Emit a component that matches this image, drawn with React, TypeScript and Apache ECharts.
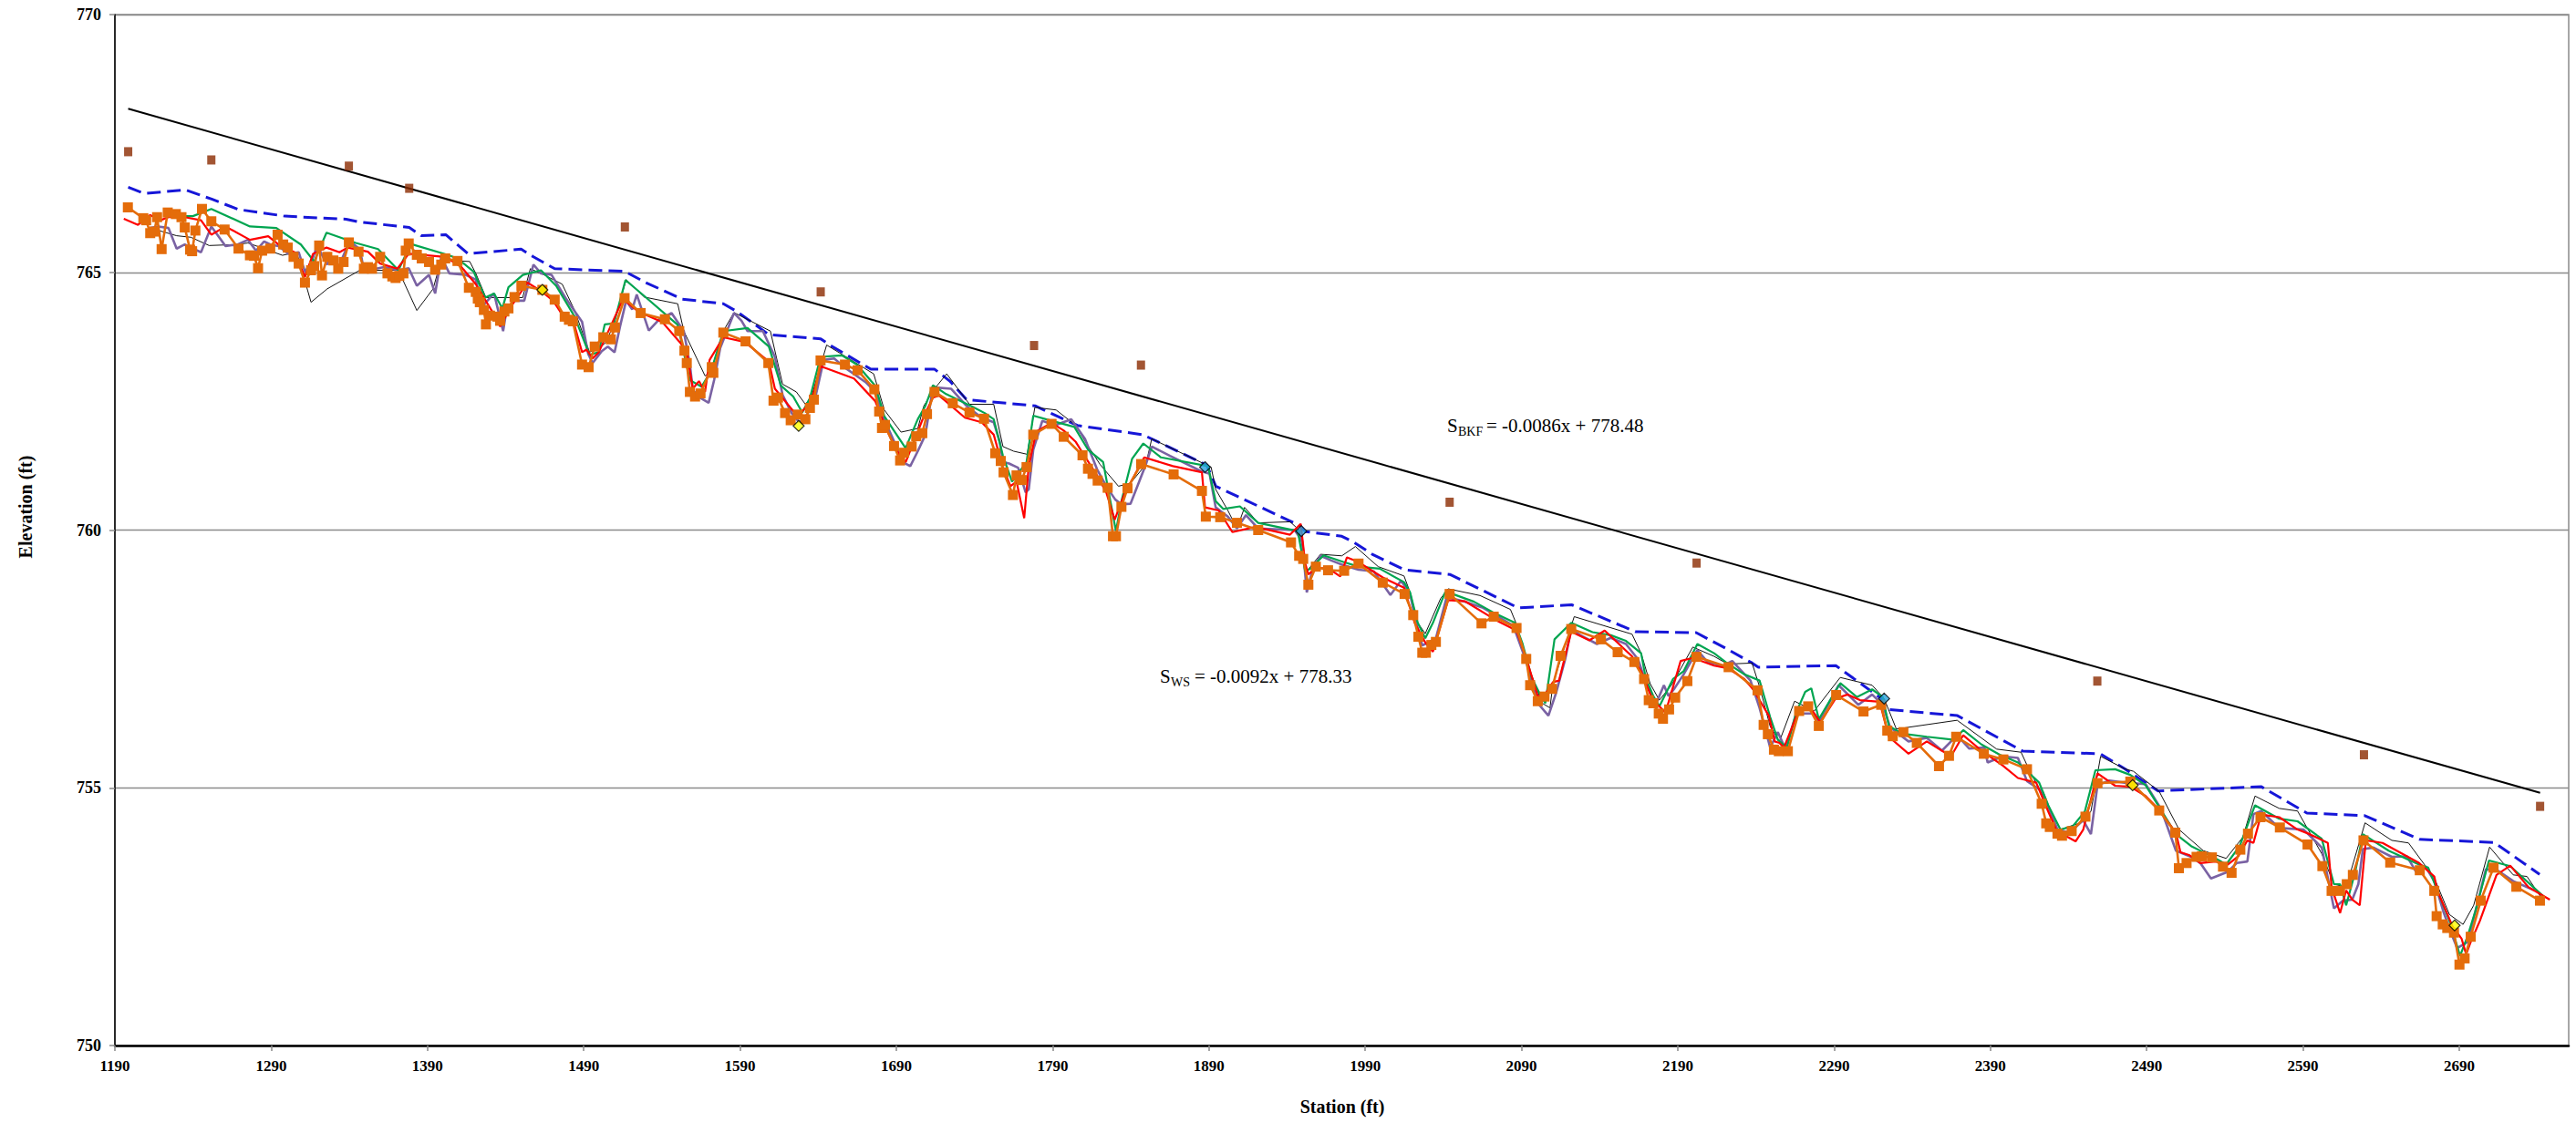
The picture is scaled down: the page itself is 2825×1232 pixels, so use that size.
import { useEffect, useRef } from 'react';
import * as echarts from 'echarts';

type Pt = [number, number];

// Axis ranges (ft)
const stationMin = 1190;
const stationMax = 2760;
const stationStep = 100;
const elevMin = 750;
const elevMax = 770;
const elevStep = 5;

// Regression coefficients for bankfull and water-surface slopes
const bkfSlope = -0.0086;
const bkfIntercept = 778.48;
const wsSlope = -0.0092;
const wsIntercept = 778.33;

// Bankfull elevations
const bankfull: Pt[] = [
  [1198.5, 767.34], [1251.7, 767.18], [1339.7, 767.06], [1378.3, 766.63], [1516.3, 765.88],
  [1641.6, 764.62], [1778.1, 763.58], [1846.5, 763.2], [2044.0, 760.54], [2202.0, 759.36],
  [2458.4, 757.07], [2629.0, 755.64], [2741.7, 754.64],
];

// Top of bank (dashed)
const topOfBank: Pt[] = [
  [1198.5, 766.65], [1208.9, 766.53], [1235.0, 766.6], [1251.9, 766.42], [1268.9, 766.22],
  [1298.8, 766.09], [1337.9, 766.03], [1345.7, 765.98], [1378.3, 765.87], [1386.0, 765.71],
  [1401.7, 765.73], [1416.0, 765.36], [1449.9, 765.45], [1457.8, 765.3], [1471.4, 765.07],
  [1516.1, 765.02], [1529.7, 764.8], [1553.1, 764.48], [1579.3, 764.39], [1588.0, 764.24],
  [1608.5, 763.79], [1641.6, 763.71], [1647.4, 763.59], [1673.7, 763.12], [1714.5, 763.12],
  [1724.2, 762.89], [1734.9, 762.53], [1778.7, 762.41], [1805.8, 762.03], [1847.7, 761.85],
  [1888.6, 761.26], [1894.4, 760.85], [1947.9, 760.09], [1951.8, 759.97], [1975.0, 759.88],
  [1982.9, 759.76], [1994.5, 759.53], [2015.0, 759.23], [2044.1, 759.14], [2087.9, 758.49],
  [2122.0, 758.55], [2162.8, 758.03], [2201.7, 758.01], [2219.2, 757.73], [2237.6, 757.42],
  [2241.5, 757.34], [2291.1, 757.37], [2320.3, 756.73], [2324.2, 756.52], [2368.9, 756.4],
  [2410.7, 755.71], [2460.3, 755.66], [2475.8, 755.37], [2497.3, 754.94], [2563.4, 755.02],
  [2592.5, 754.51], [2629.5, 754.46], [2664.5, 754.0], [2712.3, 753.94], [2741.4, 753.32],
];

// Water surface, survey A (thin black)
const surveyA: Pt[] = [
  [1212.6, 765.86], [1229.5, 765.71], [1238.6, 765.68], [1250.3, 765.52], [1268.6, 765.54],
  [1275.1, 765.57], [1297.2, 765.33], [1306.3, 765.39], [1315.5, 764.42], [1325.9, 764.68],
  [1346.7, 765.04], [1371.4, 765.04], [1383.2, 764.26], [1393.6, 764.68], [1398.8, 765.24],
  [1417.0, 765.21], [1420.9, 764.98], [1427.4, 764.51], [1450.9, 764.51], [1455.8, 765.07],
  [1464.6, 764.95], [1476.2, 764.77], [1484.0, 764.27], [1493.7, 763.45], [1501.5, 763.57],
  [1504.4, 763.65], [1509.3, 764.01], [1517.1, 764.86], [1528.7, 764.52], [1550.1, 764.39],
  [1554.0, 763.86], [1567.6, 762.99], [1571.5, 763.09], [1579.3, 763.86], [1586.1, 764.22],
  [1609.4, 763.86], [1617.2, 762.83], [1626.0, 762.68], [1631.8, 762.44], [1635.7, 762.59],
  [1645.4, 763.59], [1675.5, 763.03], [1682.3, 762.33], [1693.0, 761.9], [1703.7, 761.97],
  [1707.6, 762.41], [1714.4, 762.74], [1722.2, 763.03], [1736.8, 762.44], [1752.3, 762.44],
  [1758.2, 761.62], [1765.0, 761.53], [1773.7, 761.47], [1778.6, 762.38], [1792.2, 762.33],
  [1804.8, 762.03], [1811.6, 761.68], [1820.4, 761.27], [1832.1, 760.85], [1839.8, 760.91],
  [1849.6, 761.27], [1853.4, 761.77], [1891.4, 761.22], [1894.3, 760.79], [1902.1, 760.38],
  [1907.9, 760.03], [1912.8, 760.44], [1921.5, 760.14], [1941.9, 760.16], [1947.7, 760.0],
  [1952.6, 759.2], [1961.4, 759.53], [1975.0, 759.5], [1983.7, 759.68], [1998.3, 759.29],
  [2014.8, 759.11], [2018.7, 758.79], [2023.6, 758.2], [2028.4, 757.99], [2038.2, 758.67],
  [2043.0, 758.86], [2063.4, 758.73], [2082.9, 758.46], [2086.4, 758.2], [2092.6, 757.49],
  [2103.3, 756.64], [2108.2, 756.55], [2110.1, 757.02], [2123.7, 758.32], [2160.7, 757.98],
  [2166.5, 757.61], [2172.3, 757.02], [2178.2, 756.7], [2185.9, 756.99], [2199.6, 757.73],
  [2213.2, 757.55], [2221.9, 757.4], [2237.5, 757.42], [2242.3, 756.96], [2249.1, 756.19],
  [2255.0, 755.9], [2264.7, 756.68], [2277.3, 756.49], [2293.9, 757.14], [2314.3, 756.99],
  [2322.0, 756.73], [2329.8, 756.14], [2368.7, 756.31], [2394.0, 755.75], [2409.6, 755.69],
  [2415.4, 755.31], [2427.0, 754.66], [2434.8, 754.19], [2446.5, 754.31], [2454.3, 754.54],
  [2460.5, 755.61], [2475.7, 755.37], [2481.5, 755.32], [2498.0, 754.93], [2510.7, 754.19],
  [2526.2, 753.78], [2540.8, 753.63], [2551.5, 754.04], [2559.3, 754.84], [2574.8, 754.6],
  [2586.5, 754.55], [2602.0, 753.72], [2609.8, 753.13], [2617.6, 753.07], [2629.7, 754.32],
  [2646.8, 753.98], [2657.5, 753.93], [2674.0, 753.25], [2683.7, 752.54], [2692.4, 752.35],
  [2699.2, 752.72], [2709.4, 753.85], [2724.5, 753.31], [2733.3, 753.28], [2742.0, 752.89],
];

// Water surface, survey B (purple)
const surveyB: Pt[] = [
  [1212.6, 765.86], [1217.8, 765.89], [1224.3, 765.86], [1229.5, 765.46], [1234.7, 765.54],
  [1238.6, 765.48], [1245.1, 765.39], [1251.7, 765.89], [1260.8, 765.51], [1268.6, 765.54],
  [1275.1, 765.63], [1280.3, 765.42], [1285.5, 765.6], [1289.4, 765.54], [1294.6, 765.51],
  [1301.1, 765.36], [1307.6, 765.39], [1311.6, 765.01], [1315.5, 765.18], [1319.4, 765.51],
  [1325.9, 765.15], [1328.5, 765.3], [1332.4, 765.04], [1336.3, 765.33], [1340.2, 765.6],
  [1346.7, 765.45], [1349.3, 765.05], [1357.1, 765.07], [1362.3, 765.1], [1371.4, 765.04],
  [1378.0, 765.08], [1383.2, 764.74], [1391.0, 764.95], [1394.9, 764.59], [1398.8, 765.3],
  [1404.0, 764.98], [1414.4, 764.95], [1420.9, 764.86], [1424.8, 764.33], [1432.6, 764.59],
  [1438.4, 763.86], [1440.4, 764.24], [1445.7, 764.45], [1451.9, 764.45], [1457.8, 765.15],
  [1462.6, 764.98], [1469.4, 764.95], [1478.2, 764.51], [1485.0, 764.21], [1488.9, 764.04],
  [1492.8, 763.42], [1495.7, 763.24], [1501.5, 763.47], [1505.4, 763.56], [1509.7, 763.45],
  [1513.2, 763.95], [1517.1, 764.45], [1521.0, 764.28], [1523.9, 764.57], [1531.6, 763.87],
  [1538.4, 764.09], [1546.2, 764.21], [1554.0, 763.86], [1557.9, 763.21], [1559.8, 762.71],
  [1564.7, 762.56], [1569.9, 762.47], [1573.4, 762.91], [1577.3, 763.53], [1586.1, 764.21],
  [1590.9, 764.06], [1594.8, 763.86], [1604.6, 763.86], [1612.3, 763.36], [1617.2, 762.62],
  [1623.0, 762.27], [1627.9, 762.09], [1632.8, 762.24], [1637.6, 762.5], [1643.5, 763.3],
  [1650.2, 763.33], [1657.1, 763.15], [1670.7, 762.86], [1676.5, 762.68], [1681.4, 762.21],
  [1688.2, 761.74], [1694.0, 761.32], [1698.9, 761.24], [1703.7, 761.53], [1708.6, 761.85],
  [1713.4, 762.77], [1725.1, 762.74], [1734.8, 762.41], [1744.6, 762.18], [1752.3, 762.09],
  [1756.2, 761.71], [1758.2, 761.32], [1762.1, 761.29], [1767.9, 761.21], [1772.7, 760.73],
  [1774.7, 760.79], [1777.6, 761.56], [1783.4, 762.12], [1791.2, 762.03], [1801.9, 762.15],
  [1810.7, 761.77], [1818.4, 761.18], [1824.3, 760.85], [1830.1, 760.59], [1834.0, 760.5],
  [1839.8, 760.51], [1849.6, 761.27], [1853.4, 761.62], [1865.1, 761.44], [1884.5, 761.15],
  [1890.4, 761.09], [1894.3, 760.44], [1902.1, 760.26], [1907.9, 760.03], [1913.7, 760.29],
  [1921.5, 760.03], [1944.8, 760.0], [1949.7, 759.79], [1952.6, 758.79], [1956.5, 759.26],
  [1961.4, 759.5], [1968.2, 759.41], [1976.0, 759.32], [1985.7, 759.23], [1995.4, 759.2],
  [2006.1, 758.74], [2012.9, 759.02], [2018.7, 758.76], [2022.6, 758.2], [2026.5, 757.76],
  [2030.4, 757.82], [2035.2, 757.9], [2042.1, 758.7], [2053.7, 758.61], [2065.4, 758.49],
  [2075.1, 758.32], [2084.8, 758.14], [2092.6, 757.49], [2100.4, 756.64], [2107.2, 756.4],
  [2112.1, 756.84], [2117.9, 757.49], [2121.8, 758.08], [2127.6, 757.96], [2138.3, 757.79],
  [2147.1, 757.91], [2156.8, 757.79], [2164.6, 757.49], [2170.4, 756.96], [2176.2, 756.64],
  [2181.1, 756.99], [2184.0, 756.78], [2187.9, 756.93], [2193.7, 757.2], [2202.5, 757.67],
  [2209.3, 757.43], [2219.0, 757.37], [2224.8, 757.46], [2236.5, 757.08], [2242.3, 756.55],
  [2249.1, 755.78], [2254.0, 756.08], [2258.9, 755.75], [2265.7, 756.44], [2277.3, 756.44],
  [2280.2, 756.28], [2292.9, 756.99], [2305.5, 756.61], [2314.3, 756.81], [2321.1, 756.61],
  [2325.9, 756.17], [2337.6, 755.9], [2349.3, 755.97], [2359.0, 755.72], [2368.7, 756.02],
  [2376.5, 755.76], [2386.2, 755.78], [2388.2, 755.49], [2397.9, 755.61], [2407.6, 755.58],
  [2413.4, 755.13], [2423.2, 754.93], [2432.9, 754.19], [2440.7, 754.13], [2449.4, 754.37],
  [2454.3, 754.1], [2458.5, 755.05], [2465.9, 755.14], [2475.7, 755.1], [2489.3, 755.07],
  [2499.0, 754.6], [2508.7, 753.78], [2518.4, 753.66], [2524.3, 753.54], [2531.1, 753.24],
  [2541.8, 753.37], [2547.6, 753.54], [2554.4, 753.57], [2558.3, 754.49], [2563.2, 754.55],
  [2574.8, 754.22], [2590.4, 754.19], [2602.0, 753.84], [2605.9, 753.25], [2609.8, 752.66],
  [2615.6, 752.81], [2621.5, 752.83], [2625.4, 753.13], [2628.3, 753.81], [2635.1, 753.84],
  [2646.8, 753.66], [2656.5, 753.67], [2662.3, 753.37], [2668.2, 753.48], [2674.0, 753.19],
  [2679.8, 752.6], [2684.7, 752.19], [2688.6, 751.89], [2695.4, 752.01], [2703.2, 752.95],
  [2707.0, 753.42], [2714.8, 753.39], [2724.5, 753.19], [2738.1, 753.01],
];

// Water surface, survey C (green)
const surveyC: Pt[] = [
  [1223.8, 766.09], [1239.9, 766.09], [1251.7, 766.23], [1276.4, 765.89], [1293.3, 765.86],
  [1309.0, 765.54], [1317.5, 765.21], [1325.4, 765.77], [1344.1, 765.57], [1358.4, 765.45],
  [1371.4, 765.04], [1379.3, 765.55], [1402.7, 765.34], [1409.2, 765.27], [1419.6, 765.01],
  [1426.9, 764.51], [1432.6, 764.59], [1437.9, 764.3], [1441.8, 764.71], [1451.0, 764.95],
  [1462.6, 765.04], [1472.3, 764.74], [1484.0, 764.15], [1493.7, 763.4], [1499.6, 763.45],
  [1503.4, 763.99], [1509.3, 764.01], [1516.7, 764.85], [1528.7, 764.54], [1550.1, 763.98],
  [1557.9, 762.91], [1565.3, 762.78], [1571.5, 763.09], [1579.3, 763.86], [1594.8, 763.92],
  [1608.4, 763.56], [1616.2, 762.8], [1624.0, 762.59], [1629.8, 762.28], [1634.7, 762.56],
  [1641.5, 763.36], [1655.1, 763.39], [1664.8, 763.21], [1676.5, 762.8], [1682.3, 762.21],
  [1695.9, 761.59], [1703.7, 762.15], [1708.6, 762.41], [1713.4, 762.81], [1721.2, 762.65],
  [1738.7, 762.39], [1746.5, 762.27], [1752.3, 762.15], [1758.2, 761.44], [1764.0, 760.94],
  [1773.3, 761.32], [1777.6, 762.22], [1789.3, 762.12], [1803.9, 762.0], [1812.6, 761.56],
  [1822.3, 761.32], [1830.5, 759.98], [1834.0, 760.56], [1840.8, 761.38], [1848.0, 761.68],
  [1859.3, 761.41], [1889.4, 761.24], [1894.3, 760.56], [1899.1, 760.41], [1909.8, 760.46],
  [1921.5, 760.14], [1946.8, 759.98], [1951.6, 759.2], [1955.5, 759.26], [1963.3, 759.51],
  [1976.0, 759.38], [1985.7, 759.29], [1999.3, 759.25], [2014.8, 758.99], [2018.7, 758.79],
  [2023.6, 758.2], [2028.4, 757.9], [2033.3, 758.2], [2041.1, 758.79], [2045.9, 758.76],
  [2059.6, 758.61], [2073.2, 758.38], [2085.8, 758.2], [2090.7, 757.79], [2096.5, 757.14],
  [2101.4, 756.84], [2105.2, 756.64], [2111.1, 757.88], [2121.8, 758.2], [2135.4, 758.02],
  [2147.1, 757.96], [2156.8, 757.85], [2166.5, 757.61], [2169.4, 757.14], [2174.3, 756.78],
  [2178.2, 756.58], [2186.9, 757.11], [2193.7, 757.26], [2202.5, 757.79], [2213.2, 757.61],
  [2221.0, 757.43], [2232.6, 757.2], [2242.3, 757.08], [2249.1, 756.37], [2254.0, 755.93],
  [2259.8, 755.78], [2265.7, 756.46], [2271.5, 756.86], [2275.4, 756.93], [2280.2, 756.33],
  [2293.9, 757.03], [2304.6, 756.76], [2314.3, 756.91], [2321.1, 756.76], [2325.0, 756.2],
  [2333.7, 756.05], [2349.3, 755.99], [2366.8, 755.93], [2372.6, 756.12], [2384.3, 755.84],
  [2396.0, 755.64], [2407.6, 755.49], [2421.2, 755.1], [2427.0, 754.66], [2434.8, 754.19],
  [2442.6, 754.25], [2450.4, 754.54], [2457.2, 755.34], [2469.8, 755.36], [2479.5, 755.25],
  [2489.3, 755.05], [2508.7, 754.1], [2518.4, 753.87], [2528.2, 753.72], [2535.9, 753.6],
  [2540.8, 753.51], [2549.5, 753.87], [2559.3, 754.66], [2574.8, 754.4], [2586.5, 754.35],
  [2602.0, 754.01], [2609.8, 753.13], [2613.7, 753.13], [2617.6, 752.72], [2623.4, 753.37],
  [2628.3, 754.1], [2644.8, 753.78], [2664.3, 753.51], [2670.1, 753.45], [2676.0, 753.01],
  [2683.7, 752.42], [2690.5, 751.74], [2695.4, 752.13], [2700.2, 752.6], [2709.0, 753.59],
  [2722.6, 753.48], [2744.0, 752.89],
];

// Water surface, survey D (red)
const surveyD: Pt[] = [
  [1195.7, 766.04], [1204.8, 765.92], [1212.6, 766.11], [1219.1, 766.01], [1224.3, 766.07],
  [1234.7, 766.07], [1245.1, 766.01], [1251.7, 765.73], [1260.8, 765.89], [1276.4, 765.63],
  [1288.1, 765.7], [1294.6, 765.54], [1305.0, 765.39], [1311.6, 764.91], [1316.8, 765.36],
  [1325.4, 765.48], [1333.7, 765.39], [1338.9, 765.48], [1351.9, 765.4], [1359.7, 765.17],
  [1370.7, 765.07], [1378.0, 765.36], [1401.4, 765.3], [1411.8, 765.1], [1420.9, 764.77],
  [1432.6, 764.18], [1436.5, 763.95], [1443.1, 764.32], [1453.9, 764.8], [1462.6, 764.64],
  [1470.4, 764.45], [1476.2, 764.18], [1484.0, 763.98], [1488.9, 763.45], [1491.8, 763.5],
  [1495.7, 763.33], [1499.6, 763.45], [1515.1, 764.48], [1524.8, 764.24], [1540.4, 764.03],
  [1552.1, 763.62], [1555.9, 763.45], [1559.8, 762.74], [1563.7, 762.89], [1567.6, 762.68],
  [1570.5, 763.3], [1579.3, 763.74], [1592.9, 763.65], [1608.4, 763.27], [1612.3, 762.74],
  [1622.1, 762.38], [1626.9, 762.21], [1635.7, 762.5], [1641.5, 763.18], [1662.9, 762.94],
  [1676.5, 762.5], [1684.3, 761.91], [1692.1, 761.44], [1696.0, 761.32], [1703.7, 761.91],
  [1707.6, 762.21], [1713.4, 762.57], [1717.3, 762.61], [1733.9, 762.18], [1744.6, 762.09],
  [1752.3, 761.85], [1758.2, 761.21], [1763.0, 760.85], [1766.9, 760.94], [1771.8, 760.23],
  [1774.7, 761.24], [1779.5, 761.91], [1789.3, 762.08], [1797.1, 761.93], [1804.8, 761.71],
  [1811.6, 761.38], [1818.4, 761.06], [1824.3, 760.73], [1829.7, 760.2], [1835.9, 760.7],
  [1848.6, 761.41], [1867.0, 761.24], [1885.5, 761.12], [1887.5, 760.44], [1896.2, 760.38],
  [1905.0, 759.96], [1919.5, 760.06], [1941.9, 759.91], [1948.7, 760.12], [1951.6, 759.35],
  [1953.6, 759.14], [1958.4, 759.26], [1966.2, 759.26], [1974.0, 759.1], [1978.3, 759.47],
  [1985.7, 759.38], [2001.2, 759.08], [2014.8, 758.88], [2021.6, 758.2], [2028.4, 757.82],
  [2033.3, 757.64], [2043.0, 758.64], [2053.7, 758.62], [2073.2, 758.26], [2086.8, 758.05],
  [2092.6, 757.55], [2100.4, 756.78], [2104.3, 756.78], [2110.1, 757.05], [2114.0, 757.08],
  [2121.8, 758.03], [2133.4, 757.86], [2143.2, 758.05], [2160.7, 757.55], [2166.5, 757.26],
  [2174.3, 756.67], [2178.2, 756.58], [2182.1, 756.46], [2191.8, 757.46], [2199.6, 757.52],
  [2213.2, 757.37], [2221.9, 757.32], [2232.6, 757.11], [2238.4, 756.9], [2248.2, 756.4],
  [2252.0, 755.9], [2255.0, 755.87], [2257.9, 755.78], [2267.6, 756.52], [2273.4, 756.61],
  [2281.2, 756.27], [2290.9, 756.73], [2298.7, 756.81], [2306.5, 756.7], [2319.1, 756.67],
  [2325.0, 755.99], [2337.6, 755.66], [2349.3, 755.9], [2364.8, 755.61], [2372.6, 756.02],
  [2384.3, 755.72], [2397.9, 755.43], [2407.6, 755.19], [2419.3, 755.1], [2427.0, 754.54],
  [2432.9, 754.13], [2439.7, 754.04], [2444.5, 753.96], [2449.4, 754.19], [2458.5, 755.28],
  [2469.8, 755.04], [2479.5, 755.02], [2489.3, 754.84], [2497.0, 754.6], [2508.7, 754.13],
  [2511.6, 753.75], [2517.5, 753.69], [2524.3, 753.54], [2534.0, 753.57], [2541.8, 753.51],
  [2548.6, 753.67], [2554.4, 753.98], [2558.3, 753.93], [2563.2, 754.48], [2574.8, 754.43],
  [2586.5, 754.19], [2594.3, 754.1], [2605.9, 753.93], [2608.3, 753.07], [2613.7, 752.57],
  [2617.6, 753.01], [2621.5, 752.83], [2626.3, 752.72], [2630.2, 753.98], [2640.9, 753.93],
  [2664.3, 753.54], [2674.0, 753.28], [2675.9, 753.01], [2685.7, 752.31], [2691.5, 752.07],
  [2694.4, 751.77], [2697.3, 752.01], [2703.2, 752.42], [2713.8, 753.31], [2722.6, 753.49],
  [2734.3, 753.07], [2747.9, 752.83],
];

// Thalweg (current survey, orange squares)
const thalweg: Pt[] = [
  [1198.3, 766.26], [1208.2, 766.05], [1210.0, 766.01], [1212.6, 765.76], [1215.2, 765.79],
  [1217.0, 766.07], [1219.9, 765.45], [1223.8, 766.16], [1229.0, 766.13], [1232.6, 766.07],
  [1234.7, 765.87], [1238.1, 765.44], [1239.4, 765.41], [1241.5, 765.81], [1245.7, 766.23],
  [1251.7, 765.99], [1260.2, 765.83], [1269.1, 765.46], [1276.4, 765.33], [1279.0, 765.32],
  [1281.6, 765.08], [1284.2, 765.42], [1289.4, 765.46], [1294.1, 765.73], [1297.7, 765.54],
  [1300.6, 765.48], [1304.3, 765.3], [1307.6, 765.17], [1311.6, 764.8], [1315.5, 765.04],
  [1317.5, 765.12], [1320.7, 765.52], [1322.5, 764.94], [1325.9, 765.3], [1329.8, 765.23],
  [1332.9, 765.07], [1336.3, 765.2], [1339.7, 765.58], [1345.9, 765.4], [1349.3, 765.07],
  [1351.9, 765.1], [1354.5, 765.07], [1359.7, 765.3], [1364.4, 764.98], [1367.5, 764.92],
  [1369.6, 764.89], [1372.0, 764.93], [1374.6, 764.98], [1376.1, 765.42], [1378.0, 765.56],
  [1383.2, 765.34], [1386.3, 765.27], [1391.0, 765.2], [1394.9, 765.05], [1398.8, 765.15],
  [1401.4, 765.27], [1409.2, 765.22], [1416.5, 764.7], [1420.9, 764.62], [1422.2, 764.49],
  [1423.5, 764.42], [1426.1, 764.27], [1427.4, 763.99], [1430.0, 764.16], [1434.7, 764.14],
  [1436.5, 764.06], [1439.2, 764.24], [1441.8, 764.3], [1445.7, 764.52], [1450.1, 764.74],
  [1463.5, 764.66], [1471.4, 764.47], [1477.8, 764.14], [1480.5, 764.08], [1483.0, 764.05],
  [1488.9, 763.21], [1493.1, 763.16], [1497.0, 763.56], [1502.5, 763.74], [1507.3, 763.7],
  [1509.9, 763.93], [1516.1, 764.5], [1526.4, 764.21], [1541.9, 764.09], [1551.1, 763.86],
  [1554.4, 763.48], [1555.9, 763.24], [1557.9, 762.68], [1561.2, 762.59], [1564.7, 762.65],
  [1571.9, 763.16], [1572.9, 763.05], [1579.3, 763.83], [1593.5, 763.66], [1608.1, 763.24],
  [1611.4, 762.51], [1614.3, 762.57], [1618.8, 762.27], [1622.4, 762.13], [1626.9, 762.24],
  [1631.8, 762.15], [1634.7, 762.37], [1637.2, 762.53], [1641.5, 763.29], [1657.1, 763.21],
  [1665.2, 763.1], [1675.9, 762.73], [1679.0, 762.3], [1680.8, 761.98], [1682.7, 762.04],
  [1688.5, 761.63], [1692.4, 761.35], [1695.0, 761.5], [1699.8, 761.62], [1702.7, 761.82],
  [1706.6, 761.88], [1709.6, 762.25], [1714.4, 762.68], [1726.1, 762.46], [1736.8, 762.28],
  [1746.1, 762.16], [1753.3, 761.49], [1756.8, 761.34], [1758.6, 761.12], [1764.6, 760.68],
  [1766.9, 761.06], [1770.2, 760.97], [1773.3, 761.22], [1777.6, 761.85], [1789.3, 762.06],
  [1797.1, 761.81], [1809.1, 761.45], [1812.6, 761.19], [1815.5, 761.09], [1818.8, 760.96],
  [1825.2, 760.82], [1828.6, 759.88], [1830.5, 759.88], [1834.0, 760.45], [1837.9, 760.81],
  [1846.6, 761.28], [1867.4, 761.08], [1885.5, 760.76], [1888.0, 760.26], [1897.2, 760.25],
  [1907.9, 760.14], [1921.5, 760.0], [1942.5, 759.76], [1947.7, 759.5], [1950.3, 759.44],
  [1953.6, 758.94], [1958.4, 759.29], [1966.2, 759.22], [1976.5, 759.21], [1985.7, 759.35],
  [2001.2, 758.98], [2015.2, 758.76], [2020.7, 758.35], [2024.0, 757.93], [2026.5, 757.62],
  [2028.8, 757.62], [2032.3, 757.77], [2035.2, 757.83], [2044.0, 758.76], [2064.4, 758.19],
  [2072.2, 758.32], [2086.8, 758.1], [2093.0, 757.5], [2095.5, 756.99], [2100.4, 756.68],
  [2104.7, 756.77], [2109.5, 756.92], [2115.0, 757.56], [2121.8, 758.08], [2140.8, 757.88],
  [2151.5, 757.63], [2162.2, 757.44], [2168.4, 757.11], [2171.4, 756.7], [2174.3, 756.64],
  [2177.8, 756.44], [2180.5, 756.34], [2184.4, 756.52], [2188.3, 756.75], [2196.1, 757.07],
  [2201.9, 757.54], [2222.5, 757.34], [2241.0, 756.89], [2244.9, 756.22], [2247.6, 756.04],
  [2251.5, 755.74], [2254.6, 755.71], [2260.4, 755.71], [2267.6, 756.49], [2273.4, 756.58],
  [2280.2, 756.2], [2291.3, 756.8], [2308.8, 756.48], [2320.1, 756.61], [2324.0, 756.11],
  [2327.5, 756.0], [2334.3, 756.08], [2342.9, 755.87], [2357.1, 755.42], [2363.5, 755.62],
  [2368.1, 755.99], [2385.8, 755.66], [2398.3, 755.55], [2413.4, 755.36], [2422.8, 754.69],
  [2425.7, 754.31], [2428.0, 754.24], [2432.9, 754.11], [2435.8, 754.07], [2442.0, 754.16],
  [2450.8, 754.44], [2458.5, 755.09], [2479.5, 755.12], [2498.0, 754.56], [2508.3, 754.13],
  [2510.6, 753.44], [2515.5, 753.54], [2521.9, 753.66], [2525.2, 753.67], [2531.7, 753.65],
  [2538.8, 753.47], [2544.3, 753.35], [2549.9, 753.8], [2554.8, 754.11], [2562.8, 754.43],
  [2575.2, 754.23], [2592.9, 753.9], [2602.4, 753.48], [2608.3, 753.0], [2613.7, 753.0],
  [2618.0, 753.13], [2621.9, 753.31], [2628.7, 753.98], [2645.8, 753.55], [2664.7, 753.4],
  [2674.0, 753.0], [2675.5, 752.51], [2679.4, 752.35], [2682.3, 752.28], [2686.6, 752.19],
  [2690.1, 751.57], [2693.4, 751.69], [2697.3, 752.11], [2703.7, 752.81], [2711.9, 753.45],
  [2726.5, 753.08], [2741.6, 752.81],
];

// Surveyed structure points
const yellowPoints: Pt[] = [
  [1463.5, 764.66], [1627.5, 762.02], [2481.0, 755.05], [2687.0, 752.33],
];
const bluePoints: Pt[] = [
  [1887.5, 761.22], [1949.1, 759.98], [2322.0, 756.73],
];

const serif = '"Liberation Serif", "Times New Roman", serif';

function fmt(n: number, d: number): string {
  return n.toFixed(d);
}

export default function App() {
  const ref = useRef<HTMLDivElement | null>(null);

  useEffect(() => {
    if (!ref.current) return;
    const chart = echarts.init(ref.current, undefined, { renderer: 'svg' });

    const x0 = bankfull[0][0];
    const x1 = bankfull[bankfull.length - 1][0];
    const bkfTrend: Pt[] = [
      [x0, bkfSlope * x0 + bkfIntercept],
      [x1, bkfSlope * x1 + bkfIntercept],
    ];

    const bkfRest = `= ${fmt(bkfSlope, 4)}x + ${fmt(bkfIntercept, 2)}`;
    const wsRest = `= ${fmt(wsSlope, 4)}x + ${fmt(wsIntercept, 2)}`;

    const plainLine = (data: Pt[], color: string, width: number, z: number) => ({
      type: 'line',
      data,
      symbol: 'none',
      showSymbol: false,
      lineStyle: { color, width },
      z,
      silent: true,
    });

    chart.setOption({
      animation: false,
      backgroundColor: '#ffffff',
      grid: {
        left: 126,
        right: 8,
        top: 16,
        bottom: 85,
        show: true,
        borderColor: '#8a8a8a',
        borderWidth: 1.5,
        backgroundColor: 'transparent',
      },
      xAxis: {
        type: 'value',
        min: stationMin,
        max: stationMax,
        interval: stationStep,
        axisLine: { show: true, lineStyle: { color: '#000', width: 2.5 } },
        axisTick: { show: true, length: 6, lineStyle: { color: '#8a8a8a', width: 1.5 } },
        splitLine: { show: false },
        axisLabel: {
          margin: 14,
          fontFamily: serif,
          fontWeight: 'bold',
          fontSize: 17,
          color: '#000',
          showMaxLabel: false,
          formatter: (v: number) =>
            Math.abs(((v - stationMin) % stationStep)) < 1e-6 ? String(Math.round(v)) : '',
        },
      },
      yAxis: {
        type: 'value',
        min: elevMin,
        max: elevMax,
        interval: elevStep,
        axisLine: { show: true, lineStyle: { color: '#000', width: 1.5 } },
        axisTick: { show: true, length: 6, lineStyle: { color: '#8a8a8a', width: 1.5 } },
        splitLine: { show: true, lineStyle: { color: '#8a8a8a', width: 1.3 } },
        axisLabel: {
          margin: 15,
          fontFamily: serif,
          fontWeight: 'bold',
          fontSize: 18,
          color: '#000',
        },
      },
      series: [
        {
          type: 'line',
          data: topOfBank,
          symbol: 'none',
          lineStyle: { color: '#1616D8', width: 3, type: [15, 7] },
          z: 2,
          silent: true,
        },
        plainLine(surveyA, '#111111', 1, 3),
        plainLine(surveyB, '#7A62A3', 2.6, 4),
        plainLine(surveyC, '#00A550', 2.2, 5),
        plainLine(surveyD, '#FF0000', 2.2, 6),
        {
          type: 'line',
          data: thalweg,
          symbol: 'rect',
          symbolSize: 11,
          showSymbol: true,
          itemStyle: { color: '#E46C0A' },
          lineStyle: { color: '#E46C0A', width: 2.6 },
          z: 7,
          silent: true,
        },
        {
          type: 'line',
          data: bkfTrend,
          symbol: 'none',
          lineStyle: { color: '#000', width: 2 },
          z: 8,
          silent: true,
        },
        {
          type: 'scatter',
          data: bankfull,
          symbol: 'rect',
          symbolSize: [9, 10],
          itemStyle: { color: '#8B2A00' },
          z: 9,
          silent: true,
        },
        {
          type: 'scatter',
          data: yellowPoints,
          symbol: 'diamond',
          symbolSize: 12,
          itemStyle: { color: '#FFFF00', borderColor: '#000', borderWidth: 1.2 },
          z: 10,
          silent: true,
        },
        {
          type: 'scatter',
          data: bluePoints,
          symbol: 'diamond',
          symbolSize: 12,
          itemStyle: { color: '#27A3DD', borderColor: '#000', borderWidth: 1.2 },
          z: 10,
          silent: true,
        },
      ],
      graphic: [
        {
          type: 'text',
          x: 1472,
          y: 1214,
          style: {
            text: 'Station (ft)',
            font: `bold 20px ${serif}`,
            fill: '#000',
            align: 'center',
            verticalAlign: 'middle',
          },
        },
        {
          type: 'text',
          x: 28,
          y: 556,
          rotation: Math.PI / 2,
          style: {
            text: 'Elevation (ft)',
            font: `bold 20px ${serif}`,
            fill: '#000',
            align: 'center',
            verticalAlign: 'middle',
          },
        },
        {
          type: 'text',
          x: 1587,
          y: 467,
          style: { text: 'S', font: `21px ${serif}`, fill: '#000', align: 'left', verticalAlign: 'middle' },
        },
        {
          type: 'text',
          x: 1599,
          y: 473.5,
          style: { text: 'BKF', font: `14px ${serif}`, fill: '#000', align: 'left', verticalAlign: 'middle' },
        },
        {
          type: 'text',
          x: 1630,
          y: 467,
          style: { text: bkfRest, font: `21px ${serif}`, fill: '#000', align: 'left', verticalAlign: 'middle' },
        },
        {
          type: 'text',
          x: 1272,
          y: 742,
          style: { text: 'S', font: `21px ${serif}`, fill: '#000', align: 'left', verticalAlign: 'middle' },
        },
        {
          type: 'text',
          x: 1284,
          y: 748.5,
          style: { text: 'WS', font: `14px ${serif}`, fill: '#000', align: 'left', verticalAlign: 'middle' },
        },
        {
          type: 'text',
          x: 1310,
          y: 742,
          style: { text: wsRest, font: `21px ${serif}`, fill: '#000', align: 'left', verticalAlign: 'middle' },
        },
      ],
    });

    return () => {
      chart.dispose();
    };
  }, []);

  return (
    <div
      ref={ref}
      style={{ position: 'fixed', left: 0, top: 0, width: 2825, height: 1232, background: '#fff' }}
    />
  );
}
